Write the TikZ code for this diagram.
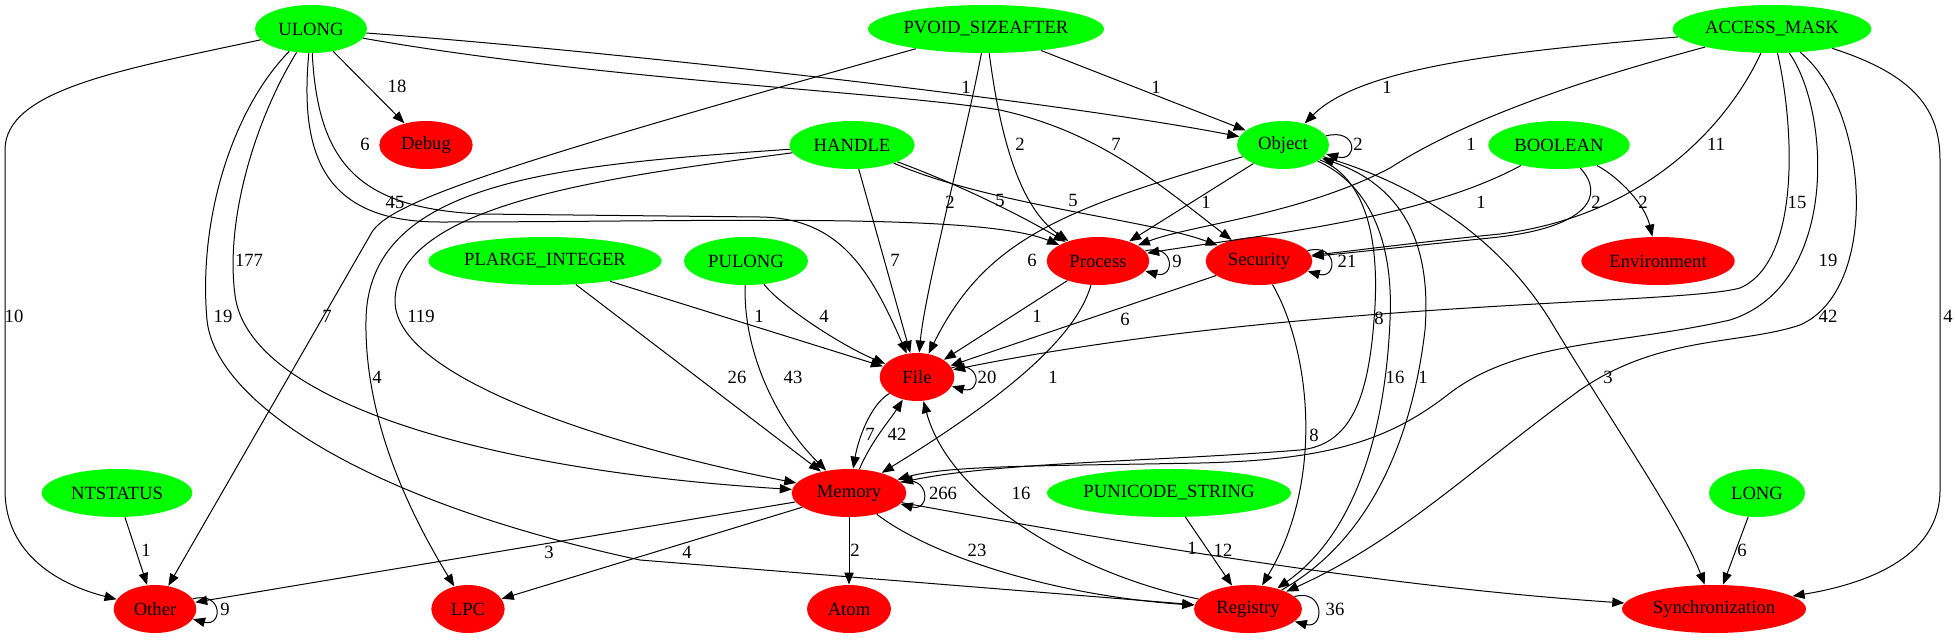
\documentclass[tikz,border=0pt]{standalone}
\usepackage{fontspec}
\setmainfont{Liberation Serif}
\usetikzlibrary{shapes.geometric,arrows.meta}

\begin{document}
\begin{tikzpicture}
		[x=0.75pt,y=-0.75pt,line cap=round,
		%Styles
		type node/.style={ellipse,fill=typecolor,inner sep=0pt,minimum height=36pt,minimum width=#1},
		group node/.style={ellipse,fill=groupcolor,inner sep=0pt,minimum height=36pt,minimum width=#1},
		count text/.style={inner sep=0pt},
		font=\fontsize{14}{16}\selectfont,
		line width=0.75pt,
		->,>={Triangle[length=9pt,width=7pt]}
		]
		
		%Colors
		\colorlet{typecolor}{green}	%argument types
		\colorlet{groupcolor}{red}	%call groups
		
		\useasboundingbox (0,0) rectangle (1955,639);
		
		%The graphic
		\node[type node=84pt] (ULONG) at (311,29) {ULONG};
		\node[type node=177pt] (PVOID) at (986,29) {PVOID\_SIZEAFTER};
		\node[type node=149pt] (ACCESS) at (1772,29) {ACCESS\_MASK};
		\node[group node=70pt] (Debug) at (426,145) {Debug};
		\node[type node=94pt] (HANDLE) at (852,145) {HANDLE};
		\node[type node=69pt] (Object) at (1283,145) {Object};
		\node[type node=106pt] (BOOLEAN) at (1559,145) {BOOLEAN};
		\node[type node=175pt] (PLARGE) at (545,261) {PLARGE\_INTEGER};
		\node[type node=93pt] (PULONG) at (746,261) {PULONG};
		\node[group node=77pt] (Process) at (1098,261) {Process};
		\node[group node=80pt] (Security) at (1259,261) {Security};
		\node[group node=115pt] (Environment) at (1658,261) {Environment};
		\node[group node=56pt] (File) at (917,377) {File};
		\node[type node=113pt] (NTSTATUS) at (117,493) {NTSTATUS};
		\node[group node=86pt] (Memory) at (849,493) {Memory};
		\node[type node=183pt] (PUNICODE) at (1169,493) {PUNICODE\_STRING};
		\node[type node=72pt] (LONG) at (1757,493) {LONG};
		\node[group node=62pt] (Other) at (155,609) {Other};
		\node[group node=55pt] (LPC) at (468,609) {LPC};
		\node[group node=63pt] (Atom) at (849,609) {Atom};
		\node[group node=81pt] (Registry) at (1248,609) {Registry};
		\node[group node=138pt] (Sync) at (1714,609) {Synchronization};
		
		%ULONG
		\draw (ULONG) -- (Debug) node[count text] at (397,86) {18};
		\draw (ULONG) .. controls (120,70) and (5,90) .. (5,150) -- (5,490) .. controls (5,555) and (60,585) .. (Other) node[count text] at (14,316) {10};
		\draw (ULONG) .. controls (255,120) and (225,220) .. (235,295) .. controls (248,400) and (480,470) .. (Memory) node[count text] at (249,260) {177};
		\draw (ULONG) .. controls (232,110) and (198,220) .. (207,320) .. controls (215,400) and (360,500) .. (640,560) -- (Registry) node[count text] at (223,316) {19};
		\draw (ULONG) .. controls (600,50) and (1050,100) .. (Object) node[count text] at (966,87) {1};
		\draw (ULONG) .. controls (600,80) and (890,92) .. (1000,110) .. controls (1100,132) and (1160,185) .. (Security) node[count text] at (1116,144) {7};
		\draw (ULONG) .. controls (300,150) and (320,222) .. (440,222) .. controls (700,222) and (980,212) .. (Process) node[count text] at (365,144) {6};
		\draw (ULONG) .. controls (318,165) and (360,208) .. (480,214) -- (760,217) .. controls (840,218) and (870,270) .. (File) node[count text] at (395,202) {45};
		
		%PVOID_SIZEAFTER
		\draw (PVOID) .. controls (520,160) and (392,200) .. (372,232) -- (Other) node[count text] at (327,316) {7};
		\draw (PVOID) -- (Object) node[count text] at (1156,87) {1};
		\draw (PVOID) .. controls (965,140) and (925,290) .. (File) node[count text] at (950,202) {2};
		\draw (PVOID) .. controls (998,120) and (1015,205) .. (Process) node[count text] at (1020,144) {2};
		
		%ACCESS_MASK
		\draw (ACCESS) .. controls (1500,52) and (1360,68) .. (Object) node[count text] at (1387,87) {1};
		\draw (ACCESS) .. controls (1620,70) and (1480,110) .. (1390,168) .. controls (1300,215) and (1190,225) .. (Process) node[count text] at (1471,144) {1};
		\draw (ACCESS) .. controls (1730,120) and (1650,215) .. (1500,234) .. controls (1420,242) and (1360,250) .. (Security) node[count text] at (1716,144) {11};
		\draw (ACCESS) .. controls (1795,130) and (1800,262) .. (1740,288) .. controls (1680,305) and (1300,300) .. (File) node[count text] at (1797,202) {15};
		\draw (ACCESS) .. controls (1830,110) and (1840,285) .. (1730,320) .. controls (1620,345) and (1520,340) .. (1450,393) .. controls (1390,440) and (1330,460) .. (1200,463) .. controls (1050,466) and (950,465) .. (Memory) node[count text] at (1828,260) {19};
		\draw (ACCESS) .. controls (1870,110) and (1880,290) .. (1800,325) .. controls (1740,345) and (1660,335) .. (1580,390) .. controls (1470,470) and (1400,540) .. (Registry) node[count text] at (1828,316) {42};
		\draw (ACCESS) .. controls (1915,75) and (1940,110) .. (1940,160) -- (1940,490) .. controls (1940,560) and (1860,585) .. (Sync) node[count text] at (1948,316) {4};
		
		%HANDLE
		\draw (HANDLE) .. controls (960,185) and (1020,215) .. (Process) node[count text] at (1000,200) {5};
		\draw (HANDLE) .. controls (990,205) and (1150,220) .. (Security) node[count text] at (1073,200) {5};
		\draw (HANDLE) -- (File) node[count text] at (895,260) {7};
		\draw (HANDLE) .. controls (600,178) and (398,205) .. (395,300) .. controls (393,385) and (650,455) .. (Memory) node[count text] at (421,316) {119};
		\draw (HANDLE) .. controls (560,165) and (368,180) .. (366,320) .. controls (364,430) and (420,530) .. (LPC) node[count text] at (377,377) {4};
		
		%Object
		\draw (Object.12) .. controls +(32,-8) and +(32,8) .. (Object.-12) node[count text] at (1358,144) {2};
		\draw (Object) -- (Process) node[count text] at (1206,202) {1};
		\draw (Object) .. controls (1060,210) and (985,240) .. (File) node[count text] at (1032,260) {6};
		\draw (Object) .. controls (1370,180) and (1380,250) .. (1374,320) .. controls (1368,400) and (1350,445) .. (1300,450) .. controls (1150,462) and (1000,462) .. (Memory) node[count text] at (1379,318) {8};
		\draw (Object) .. controls (1380,190) and (1393,260) .. (1390,320) .. controls (1386,420) and (1360,530) .. (Registry) node[count text] at (1395,377) {16};
		\draw (Registry) .. controls (1370,540) and (1412,440) .. (1425,330) .. controls (1432,240) and (1400,185) .. (Object) node[count text] at (1423,377) {1};
		\draw (Object) .. controls (1420,185) and (1500,240) .. (1550,320) .. controls (1610,420) and (1680,520) .. (Sync) node[count text] at (1608,377) {3};
		
		%BOOLEAN
		\draw (BOOLEAN) .. controls (1420,220) and (1260,235) .. (Process) node[count text] at (1481,202) {1};
		\draw (BOOLEAN) .. controls (1605,195) and (1590,228) .. (1490,238) .. controls (1410,246) and (1360,252) .. (Security) node[count text] at (1596,202) {2};
		\draw (BOOLEAN) .. controls (1620,178) and (1645,205) .. (Environment) node[count text] at (1643,202) {2};
		
		%PLARGE_INTEGER, PULONG
		\draw (PLARGE) -- (File) node[count text] at (759,316) {1};
		\draw (PLARGE) -- (Memory) node[count text] at (737,377) {26};
		\draw (PULONG) .. controls (780,305) and (840,345) .. (File) node[count text] at (824,316) {4};
		\draw (PULONG) .. controls (743,350) and (775,420) .. (Memory) node[count text] at (793,377) {43};
		
		%Process, Security
		\draw (Process.12) .. controls +(30,-8) and +(30,8) .. (Process.-12) node[count text] at (1177,261) {9};
		\draw (Process) -- (File) node[count text] at (1037,316) {1};
		\draw (Process) .. controls (1075,340) and (1000,400) .. (Memory) node[count text] at (1053,377) {1};
		\draw (Security.12) .. controls +(30,-8) and +(30,8) .. (Security.-12) node[count text] at (1347,261) {21};
		\draw (Security) -- (File) node[count text] at (1125,319) {6};
		\draw (Security) .. controls (1310,350) and (1325,480) .. (Registry) node[count text] at (1314,435) {8};
		
		%File, Registry
		\draw (File.15) .. controls +(30,-8) and +(30,8) .. (File.-15) node[count text] at (987,377) {20};
		\draw (File) .. controls (870,405) and (858,440) .. (Memory) node[count text] at (870,434) {7};
		\draw (Memory) .. controls (872,440) and (890,420) .. (File) node[count text] at (897,434) {42};
		\draw (Registry) .. controls (1080,575) and (950,500) .. (File) node[count text] at (1021,493) {16};
		\draw (Registry.15) .. controls +(30,-8) and +(30,8) .. (Registry.-15) node[count text] at (1335,609) {36};
		
		%Memory
		\draw (Memory.12) .. controls +(30,-8) and +(30,8) .. (Memory.-12) node[count text] at (943,493) {266};
		\draw (Memory) -- (Other) node[count text] at (549,552) {3};
		\draw (Memory) -- (LPC) node[count text] at (687,552) {4};
		\draw (Memory) -- (Atom) node[count text] at (855,550) {2};
		\draw (Memory) .. controls (930,555) and (1050,595) .. (Registry) node[count text] at (977,550) {23};
		\draw (Memory) .. controls (1150,548) and (1400,588) .. (Sync) node[count text] at (1192,548) {1};
		
		%the rest
		\draw (NTSTATUS) -- (Other) node[count text] at (146,550) {1};
		\draw (Other.15) .. controls +(30,-8) and +(30,8) .. (Other.-15) node[count text] at (225,609) {9};
		\draw (PUNICODE) -- (Registry) node[count text] at (1223,550) {12};
		\draw (LONG) -- (Sync) node[count text] at (1742,550) {6};
\end{tikzpicture}
\end{document}
